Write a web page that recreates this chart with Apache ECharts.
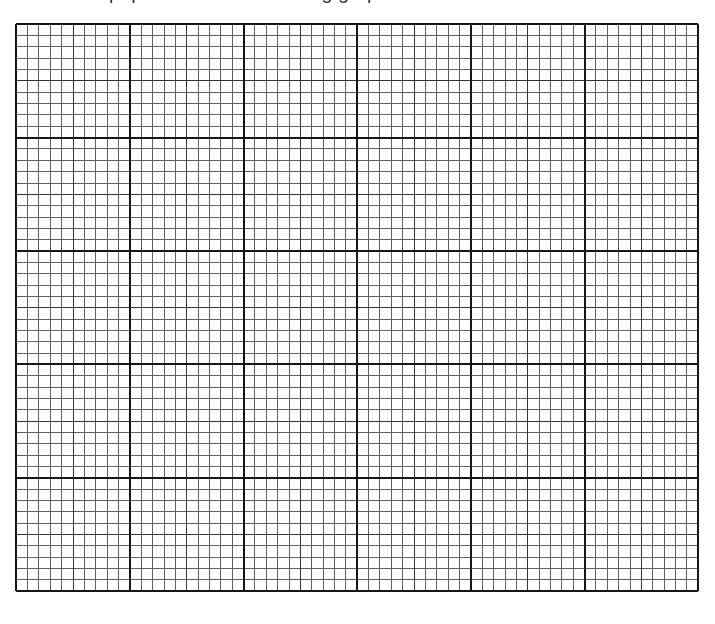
<!DOCTYPE html>
<html>
<head>
<meta charset="utf-8">
<script src="https://cdn.jsdelivr.net/npm/echarts@6/dist/echarts.min.js"></script>
<style>
html, body { margin: 0; padding: 0; background: #fff; }
#main { width: 715px; height: 624px; }
</style>
</head>
<body>
<div id="main"></div>
<script>
// paper size, counted in small squares
const xRange = [0, 60];
const yRange = [0, 50];
// three line levels: fine, half, main
const steps = [1, 5, 10];
const lineColors = ['#5e5e5e', '#333333', '#151515'];
const lineWidths = [1, 1, 2];
const titleText = 'Millimetre paper with ECharts using graph lines';

window.addEventListener('load', function () {
    let chart = echarts.init(document.getElementById('main'));

    function axis(range, i, pos) {
        return {
            type: 'value',
            position: pos,
            min: range[0],
            max: range[1],
            interval: steps[i],
            z: i + 1,
            axisLine: { show: false },
            axisTick: { show: false },
            axisLabel: { show: false },
            splitLine: {
                show: true,
                lineStyle: { color: lineColors[i], width: lineWidths[i] }
            }
        };
    }

    let option = {
        animation: false,
        title: {
            text: titleText,
            left: 13,
            top: -22,
            textStyle: { fontSize: 20, fontWeight: 'normal', color: '#333' }
        },
        grid: { left: 16, right: 17, top: 24, bottom: 33, containLabel: false },
        xAxis: steps.map(function (s, i) { return axis(xRange, i, 'bottom'); }),
        yAxis: steps.map(function (s, i) { return axis(yRange, i, 'left'); }),
        series: [{ type: 'line', data: [], xAxisIndex: 0, yAxisIndex: 0 }]
    };
    chart.setOption(option);
}, false);
</script>
</body>
</html>
